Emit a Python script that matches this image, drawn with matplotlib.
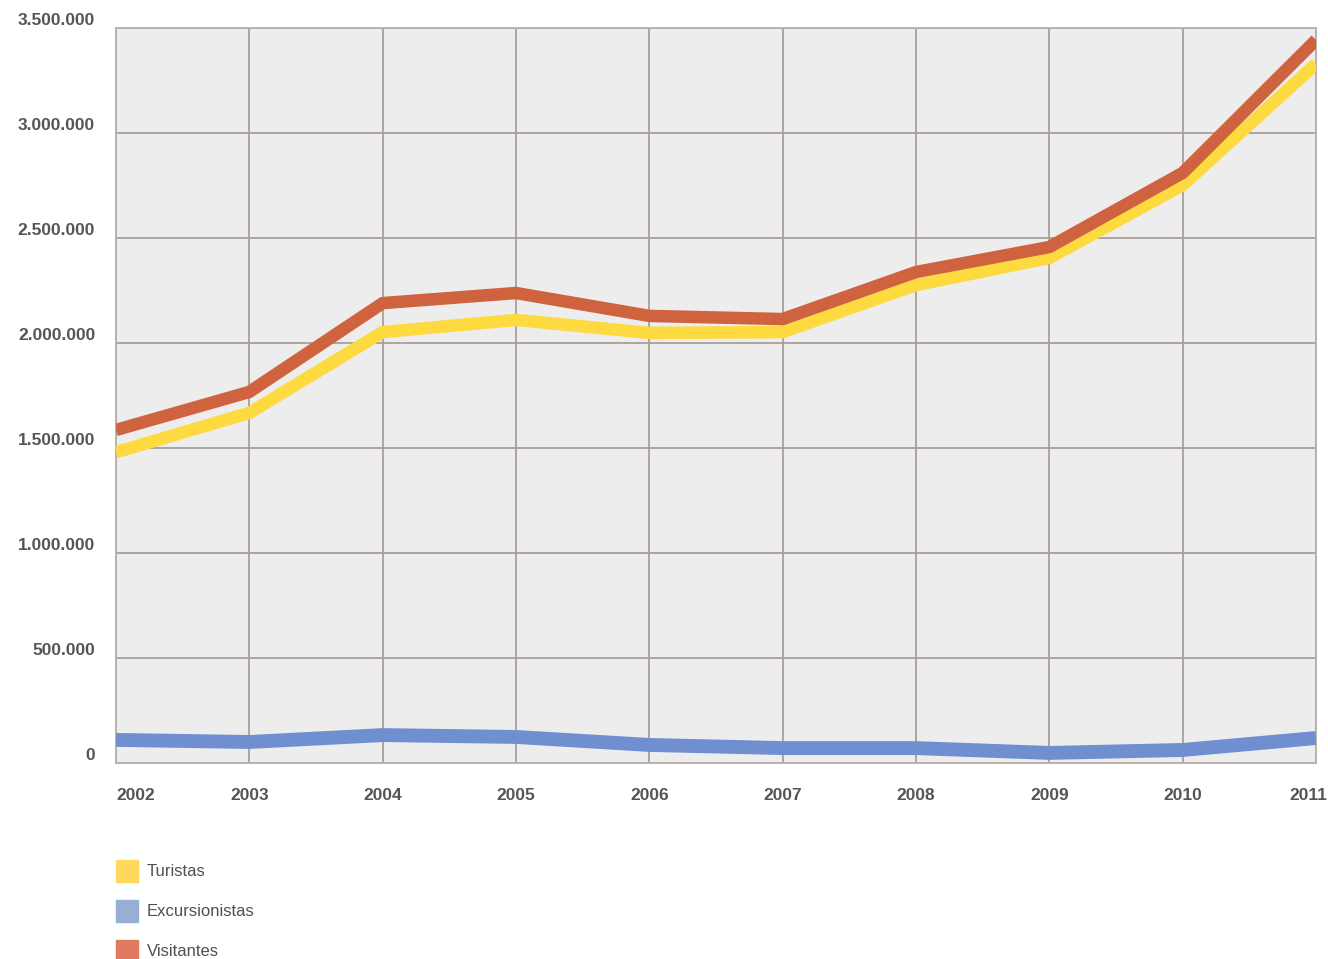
import matplotlib
matplotlib.use("Agg")
import matplotlib.pyplot as plt
import matplotlib.transforms as mtrans
from matplotlib.patches import Rectangle
from matplotlib.ticker import FuncFormatter

years = [2002, 2003, 2004, 2005, 2006, 2007, 2008, 2009, 2010, 2011]
turistas = [1480000, 1667000, 2052000, 2110000, 2048000, 2052000, 2276000, 2405000, 2752000, 3329000]
excursionistas = [110000, 100000, 133000, 124000, 86000, 71000, 71000, 48000, 62000, 119000]
visitantes = [1586000, 1767000, 2190000, 2238000, 2129000, 2114000, 2338000, 2457000, 2810000, 3443000]
y_ticks = [0, 500000, 1000000, 1500000, 2000000, 2500000, 3000000, 3500000]
legend_labels = ["Turistas", "Excursionistas", "Visitantes"]

line_colors = ["#FDDB40", "#6F8FD0", "#D0633F"]
patch_colors = ["#FFD95C", "#99AED6", "#E07B5F"]

plt.rcParams['font.family'] = ['Liberation Sans', 'DejaVu Sans']

fig = plt.figure(figsize=(13.28, 9.59), dpi=100)
ax = fig.add_axes([116/1328, 1 - 763/959, (1316-116)/1328, (763-28)/959])
ax.set_facecolor("#EDEDED")

ax.plot(years, turistas, color=line_colors[0], lw=9, solid_capstyle='butt', zorder=3)
ax.plot(years, excursionistas, color=line_colors[1], lw=10, solid_capstyle='butt', zorder=3)
ax.plot(years, visitantes, color=line_colors[2], lw=9, solid_capstyle='butt', zorder=3)

ax.set_xlim(2002, 2011)
ax.set_ylim(0, 3500000)
ax.set_xticks(years)
ax.set_yticks(y_ticks)
ax.yaxis.set_major_formatter(FuncFormatter(lambda v, p: f"{int(v):,}".replace(",", ".")))
ax.grid(True, color="#AA9E99", lw=1.3, zorder=1)
for s in ax.spines.values():
    s.set_color("#B8AEAA")
    s.set_linewidth(1.3)
ax.tick_params(length=0, labelsize=12.5, labelcolor="#555555")
ax.tick_params(axis='y', pad=15)
ax.tick_params(axis='x', pad=18)
for lab in ax.get_yticklabels():
    lab.set_verticalalignment('bottom')
for lab in ax.get_xticklabels() + ax.get_yticklabels():
    lab.set_fontweight('bold')
xl = ax.get_xticklabels()
xl[0].set_horizontalalignment('left')
xl[-1].set_horizontalalignment('right')
xl[-1].set_transform(xl[-1].get_transform() + mtrans.ScaledTranslation(0.11, 0, fig.dpi_scale_trans))

# legend
for i, (lab, c) in enumerate(zip(legend_labels, patch_colors)):
    ytop = 860 + i * 40
    fig.patches.append(Rectangle((116/1328, 1 - (ytop+22)/959), 22/1328, 22/959,
                                 transform=fig.transFigure, color=c))
    fig.text(147/1328, 1 - (ytop+11)/959, lab, fontsize=12, color="#505050",
             va='center', ha='left', family=['Liberation Sans Narrow', 'Liberation Sans', 'DejaVu Sans'])

fig.savefig("out.png", dpi=100)
